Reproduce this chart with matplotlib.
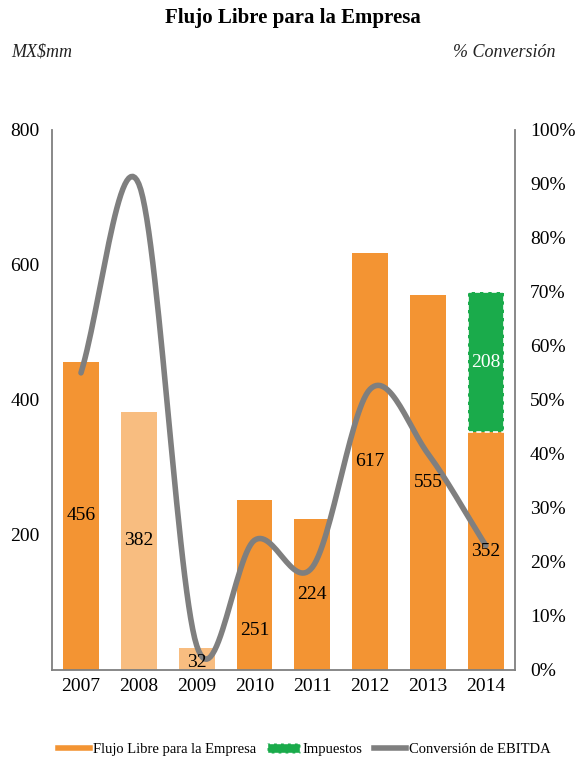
import matplotlib.pyplot as plt
from matplotlib.patches import Patch
from matplotlib.lines import Line2D
import numpy as np

plt.rcParams['font.family'] = ['Liberation Serif', 'DejaVu Serif']

years = ['2007', '2008', '2009', '2010', '2011', '2012', '2013', '2014']
flujo = [456, 382, 32, 251, 224, 617, 555, 352]
impuestos = [0, 0, 0, 0, 0, 0, 0, 208]
conversion = [55, 90, 4.5, 24, 19, 52, 40, 23]

ORANGE = '#f39433'
LIGHT = '#f8bd80'
GREEN = '#1aab4b'
GRAY = '#7f7f7f'


def smooth(x, y, n=30):
    # Catmull-Rom spline through the points, like a smoothed Excel line
    x = np.asarray(x, float)
    y = np.asarray(y, float)
    px = np.concatenate([[2 * x[0] - x[1]], x, [2 * x[-1] - x[-2]]])
    py = np.concatenate([[2 * y[0] - y[1]], y, [2 * y[-1] - y[-2]]])
    xs, ys = [], []
    t = np.linspace(0, 1, n)
    for i in range(1, len(px) - 2):
        for p, out in ((px, xs), (py, ys)):
            p0, p1, p2, p3 = p[i - 1], p[i], p[i + 1], p[i + 2]
            out.extend(0.5 * (2 * p1 + (-p0 + p2) * t
                              + (2 * p0 - 5 * p1 + 4 * p2 - p3) * t ** 2
                              + (-p0 + 3 * p1 - 3 * p2 + p3) * t ** 3))
    return np.array(xs), np.array(ys)


fig = plt.figure(figsize=(5.85, 7.69), dpi=100)
ax = fig.add_axes([0.089, 0.129, 0.791, 0.702])
x = np.arange(len(years))
colors = [ORANGE, LIGHT, LIGHT, ORANGE, ORANGE, ORANGE, ORANGE, ORANGE]
ax.bar(x, flujo, width=0.62, color=colors, zorder=2)
ax.bar(x[-1:], impuestos[-1:], bottom=flujo[-1:], width=0.62, color=GREEN,
       edgecolor='white', linestyle=(0, (3, 2)), linewidth=1.2, zorder=2)

ax.set_xlim(-0.5, len(years) - 0.5)
ax.set_ylim(0, 800)
ax.set_yticks([200, 400, 600, 800])
ax.set_xticks(x, years)
ax.tick_params(labelsize=14, length=0, pad=9)
ax.tick_params(axis='x', pad=6)
for s in ('left', 'bottom'):
    ax.spines[s].set_color(GRAY)
    ax.spines[s].set_linewidth(1.3)
ax.spines['top'].set_visible(False)
ax.spines['right'].set_visible(False)

ax2 = ax.twinx()
ax2.set_ylim(0, 100)
ax2.set_yticks(np.arange(0, 101, 10))
ax2.set_yticklabels([f'{v}%' for v in range(0, 101, 10)])
ax2.tick_params(labelsize=14, length=0, pad=11)
ax2.spines['right'].set_color(GRAY)
ax2.spines['right'].set_linewidth(1.3)
for s in ('top', 'left', 'bottom'):
    ax2.spines[s].set_visible(False)
sx, sy = smooth(x, conversion)
ax2.plot(sx, sy, color=GRAY, lw=4, solid_capstyle='round', zorder=3)

# value labels, drawn above the line
for i, v in enumerate(flujo):
    yv = v / 2 if i != 3 else v * 0.23
    if i == 2:
        yv = v * 0.35
    ax2.text(i, yv / 8, str(v), ha='center', va='center', fontsize=14,
             color='black', zorder=5)
ax2.text(x[-1], (flujo[-1] + impuestos[-1] / 2) / 8, str(impuestos[-1]),
         ha='center', va='center', fontsize=14, color='white', zorder=5)

fig.text(0.5, 0.976, 'Flujo Libre para la Empresa', ha='center', va='center',
         fontsize=15, fontweight='bold')
fig.text(0.02, 0.932, 'MX$mm', ha='left', va='center', fontsize=13,
         style='italic', color='#222222')
fig.text(0.95, 0.932, '% Conversión', ha='right', va='center', fontsize=13,
         style='italic', color='#222222')

handles = [
    Line2D([], [], color=ORANGE, lw=4),
    Patch(facecolor=GREEN, edgecolor='white', linestyle=(0, (3, 2))),
    Line2D([], [], color=GRAY, lw=4),
]
fig.legend(handles, ['Flujo Libre para la Empresa', 'Impuestos',
                     'Conversión de EBITDA'],
           loc='center', bbox_to_anchor=(0.52, 0.025), ncol=3, frameon=False,
           fontsize=10.5, handlelength=2.2, handletextpad=0.2, columnspacing=0.8)

fig.savefig('out.png', dpi=100)
